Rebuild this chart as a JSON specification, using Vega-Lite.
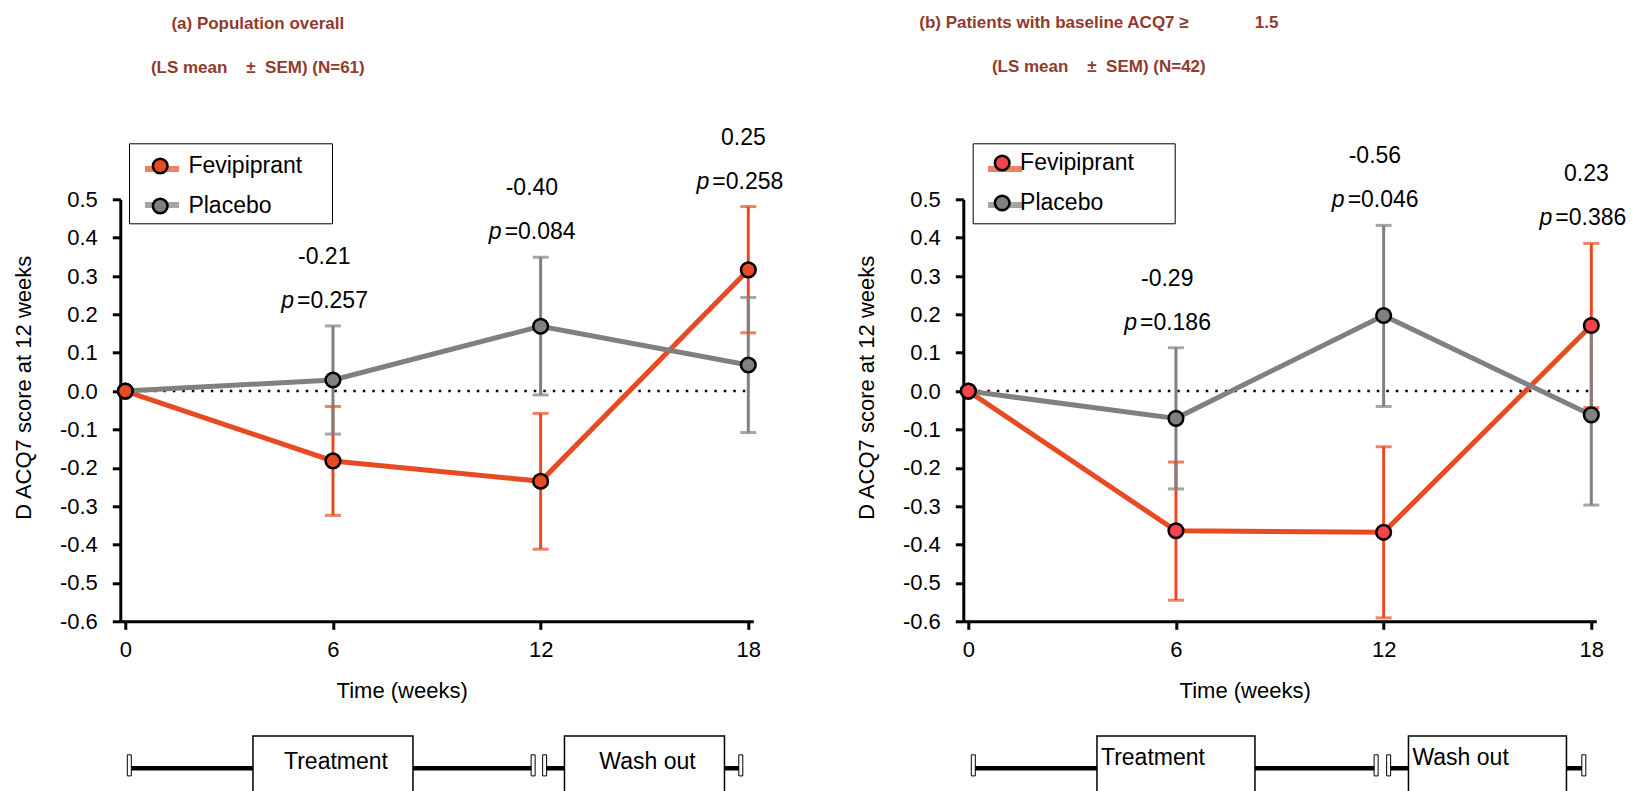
{
  "$schema": "https://vega.github.io/schema/vega-lite/v6.json",
  "autosize": {"type": "none"},
  "padding": {"left": 120.3, "top": 199.3, "right": 1514.7, "bottom": 591.7},
  "background": "white",
  "config": {
    "font": "Liberation Sans",
    "view": {"stroke": null},
    "locale": {"number": {"decimal": ".", "thousands": ",", "grouping": [3], "currency": ["$", ""], "minus": "-"}},
    "axis": {"domainColor": "black", "domainWidth": 3, "tickColor": "black", "tickWidth": 3, "tickSize": 8, "grid": false,
             "labelFont": "Liberation Sans", "labelFontSize": 22, "labelColor": "black",
             "titleFont": "Liberation Sans", "titleFontSize": 22, "titleFontWeight": "normal", "titleColor": "black"},
    "legend": {"labelFont": "Liberation Sans", "labelFontSize": 23, "labelColor": "black"},
    "title": {"font": "Liberation Sans", "fontSize": 17, "fontWeight": "bold", "color": "#903B2C", "lineHeight": 44, "anchor": "middle"},
    "text": {"font": "Liberation Sans", "fontSize": 23, "color": "black"}
  },
  "datasets": {
    "a": [
      {"group": "Fevipiprant", "week": 0, "mean": 0, "lo": 0, "hi": 0},
      {"group": "Fevipiprant", "week": 6, "mean": -0.182, "lo": -0.324, "hi": -0.040},
      {"group": "Fevipiprant", "week": 12, "mean": -0.235, "lo": -0.412, "hi": -0.058},
      {"group": "Fevipiprant", "week": 18, "mean": 0.316, "lo": 0.152, "hi": 0.481},
      {"group": "Placebo", "week": 0, "mean": 0, "lo": 0, "hi": 0},
      {"group": "Placebo", "week": 6, "mean": 0.029, "lo": -0.112, "hi": 0.170},
      {"group": "Placebo", "week": 12, "mean": 0.169, "lo": -0.010, "hi": 0.349},
      {"group": "Placebo", "week": 18, "mean": 0.068, "lo": -0.108, "hi": 0.244}
    ],
    "b": [
      {"group": "Fevipiprant", "week": 0, "mean": 0, "lo": 0, "hi": 0},
      {"group": "Fevipiprant", "week": 6, "mean": -0.364, "lo": -0.545, "hi": -0.185},
      {"group": "Fevipiprant", "week": 12, "mean": -0.368, "lo": -0.591, "hi": -0.145},
      {"group": "Fevipiprant", "week": 18, "mean": 0.171, "lo": -0.043, "hi": 0.385},
      {"group": "Placebo", "week": 0, "mean": 0, "lo": 0, "hi": 0},
      {"group": "Placebo", "week": 6, "mean": -0.071, "lo": -0.255, "hi": 0.113},
      {"group": "Placebo", "week": 12, "mean": 0.197, "lo": -0.040, "hi": 0.432},
      {"group": "Placebo", "week": 18, "mean": -0.062, "lo": -0.297, "hi": 0.173}
    ],
    "phases": [
      {"phase": "Treatment", "start": 0, "end": 12},
      {"phase": "Wash out", "start": 12, "end": 18}
    ]
  },
  "hconcat": [
    {
      "width": 633, "height": 422,
      "title": {"text": ["(a) Population overall", "(LS mean \u00a0\u00a0\u00a0± \u00a0SEM) (N=61)"], "dx": -179, "offset": 50},
      "layer": [
        {
          "data": {"values": [{"ref": 0}]},
          "mark": {"type": "rule", "color": "black", "strokeWidth": 2.5, "strokeDash": [2.5, 7]},
          "encoding": {
            "x": {"datum": 0, "type": "quantitative", "scale": {"domain": [0, 18], "nice": false, "zero": false}, "title": "Time (weeks)",
                  "axis": {"values": [0, 6, 12, 18], "format": "d", "labelPadding": 10, "titleX": 281.4, "titleY": 69, "titleAlign": "center", "titleBaseline": "middle"}},
            "x2": {"datum": 18},
            "y": {"field": "ref", "type": "quantitative", "scale": {"domain": [-0.6, 0.5], "nice": false, "zero": false}, "title": "D ACQ7 score at 12 weeks",
                  "axis": {"values": [-0.6, -0.5, -0.4, -0.3, -0.2, -0.1, 0, 0.1, 0.2, 0.3, 0.4, 0.5], "format": ".1f", "labelPadding": 15, "labelOverlap": false, "titleX": -97, "titleY": 188, "titleAlign": "center", "titleBaseline": "middle", "titleAngle": 270}}
          }
        },
        {
          "data": {"name": "a"},
          "transform": [{"filter": "datum.week > 0"}],
          "layer": [
            {"mark": {"type": "rule", "strokeWidth": 3},
             "encoding": {"x": {"field": "week", "type": "quantitative", "title": "Time (weeks)", "axis": {"values": [0, 6, 12, 18], "format": "d", "labelPadding": 10, "titleX": 281.4, "titleY": 69, "titleAlign": "center", "titleBaseline": "middle"}},
                          "y": {"field": "lo", "type": "quantitative", "title": "D ACQ7 score at 12 weeks", "axis": {"values": [-0.6, -0.5, -0.4, -0.3, -0.2, -0.1, 0, 0.1, 0.2, 0.3, 0.4, 0.5], "format": ".1f", "labelPadding": 15, "labelOverlap": false, "titleX": -97, "titleY": 188, "titleAlign": "center", "titleBaseline": "middle", "titleAngle": 270}},
                          "y2": {"field": "hi"},
                          "color": {"field": "group", "type": "nominal", "scale": {"range": ["#E84B23", "#808080"]}}}},
            {"mark": {"type": "tick", "orient": "horizontal", "size": 16, "thickness": 3},
             "encoding": {"x": {"field": "week", "type": "quantitative", "title": "Time (weeks)", "axis": {"values": [0, 6, 12, 18], "format": "d", "labelPadding": 10, "titleX": 281.4, "titleY": 69, "titleAlign": "center", "titleBaseline": "middle"}},
                          "y": {"field": "lo", "type": "quantitative", "title": "D ACQ7 score at 12 weeks", "axis": {"values": [-0.6, -0.5, -0.4, -0.3, -0.2, -0.1, 0, 0.1, 0.2, 0.3, 0.4, 0.5], "format": ".1f", "labelPadding": 15, "labelOverlap": false, "titleX": -97, "titleY": 188, "titleAlign": "center", "titleBaseline": "middle", "titleAngle": 270}},
                          "color": {"field": "group", "type": "nominal", "scale": {"range": ["#E84B23", "#808080"]}}}},
            {"mark": {"type": "tick", "orient": "horizontal", "size": 16, "thickness": 3},
             "encoding": {"x": {"field": "week", "type": "quantitative", "title": "Time (weeks)", "axis": {"values": [0, 6, 12, 18], "format": "d", "labelPadding": 10, "titleX": 281.4, "titleY": 69, "titleAlign": "center", "titleBaseline": "middle"}},
                          "y": {"field": "hi", "type": "quantitative", "title": "D ACQ7 score at 12 weeks", "axis": {"values": [-0.6, -0.5, -0.4, -0.3, -0.2, -0.1, 0, 0.1, 0.2, 0.3, 0.4, 0.5], "format": ".1f", "labelPadding": 15, "labelOverlap": false, "titleX": -97, "titleY": 188, "titleAlign": "center", "titleBaseline": "middle", "titleAngle": 270}},
                          "color": {"field": "group", "type": "nominal", "scale": {"range": ["#E84B23", "#808080"]}}}}
          ]
        },
        {
          "data": {"name": "a"},
          "mark": {"type": "line", "strokeWidth": 5},
          "encoding": {
            "x": {"field": "week", "type": "quantitative", "title": "Time (weeks)", "axis": {"values": [0, 6, 12, 18], "format": "d", "labelPadding": 10, "titleX": 281.4, "titleY": 69, "titleAlign": "center", "titleBaseline": "middle"}},
            "y": {"field": "mean", "type": "quantitative", "title": "D ACQ7 score at 12 weeks", "axis": {"values": [-0.6, -0.5, -0.4, -0.3, -0.2, -0.1, 0, 0.1, 0.2, 0.3, 0.4, 0.5], "format": ".1f", "labelPadding": 15, "labelOverlap": false, "titleX": -97, "titleY": 188, "titleAlign": "center", "titleBaseline": "middle", "titleAngle": 270}},
            "color": {"field": "group", "type": "nominal", "scale": {"range": ["#E84B23", "#808080"]},
                      "legend": {"orient": "none", "legendX": 8.7, "legendY": -56, "title": null, "symbolType": "M-1,0H1", "symbolSize": 1156, "symbolStrokeWidth": 6,
                                 "labelExpr": "''", "labelOffset": 144, "rowPadding": 4, "padding": 5.7, "symbolOffset": 7.3, "strokeColor": "black"}}
          }
        },
        {
          "data": {"name": "a"},
          "mark": {"type": "point", "filled": true, "size": 215, "stroke": "black", "strokeWidth": 2.5, "opacity": 1},
          "encoding": {
            "x": {"field": "week", "type": "quantitative", "title": "Time (weeks)", "axis": {"values": [0, 6, 12, 18], "format": "d", "labelPadding": 10, "titleX": 281.4, "titleY": 69, "titleAlign": "center", "titleBaseline": "middle"}},
            "y": {"field": "mean", "type": "quantitative", "title": "D ACQ7 score at 12 weeks", "axis": {"values": [-0.6, -0.5, -0.4, -0.3, -0.2, -0.1, 0, 0.1, 0.2, 0.3, 0.4, 0.5], "format": ".1f", "labelPadding": 15, "labelOverlap": false, "titleX": -97, "titleY": 188, "titleAlign": "center", "titleBaseline": "middle", "titleAngle": 270}},
            "fill": {"field": "group", "type": "nominal", "scale": {"domain": ["Fevipiprant", "Placebo"], "range": ["#E84B23", "#808080"]},
                     "legend": {"orient": "none", "legendX": 28.4, "legendY": -44.8, "title": null, "symbolType": "circle", "symbolSize": 215, "symbolStrokeColor": "black", "symbolStrokeWidth": 2.5, "symbolOpacity": 1,
                                "labelExpr": "datum.label == 'Placebo' ? '\u00a0Placebo' : datum.label", "labelOffset": 16.7, "rowPadding": 15, "padding": 0}},
            "order": {"field": "group", "sort": "descending"}
          }
        },
        {
          "data": {"name": "a"},
          "transform": [
            {"filter": "datum.week > 0"},
            {"aggregate": [{"op": "max", "field": "hi", "as": "top"}], "groupby": ["week"]},
            {"lookup": "week", "from": {"data": {"values": [{"week": 6, "diff": "-0.21", "p": "=0.257"}, {"week": 12, "diff": "-0.40", "p": "=0.084"}, {"week": 18, "diff": "0.25", "p": "=0.258"}]}, "key": "week", "fields": ["diff", "p"]}}
          ],
          "layer": [
            {"mark": {"type": "text", "align": "right", "baseline": "middle", "dx": 17.5, "dy": -69},
             "encoding": {"x": {"field": "week", "type": "quantitative", "title": "Time (weeks)", "axis": {"values": [0, 6, 12, 18], "format": "d", "labelPadding": 10, "titleX": 281.4, "titleY": 69, "titleAlign": "center", "titleBaseline": "middle"}},
                          "y": {"field": "top", "type": "quantitative", "title": "D ACQ7 score at 12 weeks", "axis": {"values": [-0.6, -0.5, -0.4, -0.3, -0.2, -0.1, 0, 0.1, 0.2, 0.3, 0.4, 0.5], "format": ".1f", "labelPadding": 15, "labelOverlap": false, "titleX": -97, "titleY": 188, "titleAlign": "center", "titleBaseline": "middle", "titleAngle": 270}},
                          "text": {"field": "diff"}}},
            {"mark": {"type": "text", "align": "right", "baseline": "middle", "dx": -39, "dy": -25, "fontStyle": "italic", "text": "p"},
             "encoding": {"x": {"field": "week", "type": "quantitative", "title": "Time (weeks)", "axis": {"values": [0, 6, 12, 18], "format": "d", "labelPadding": 10, "titleX": 281.4, "titleY": 69, "titleAlign": "center", "titleBaseline": "middle"}},
                          "y": {"field": "top", "type": "quantitative", "title": "D ACQ7 score at 12 weeks", "axis": {"values": [-0.6, -0.5, -0.4, -0.3, -0.2, -0.1, 0, 0.1, 0.2, 0.3, 0.4, 0.5], "format": ".1f", "labelPadding": 15, "labelOverlap": false, "titleX": -97, "titleY": 188, "titleAlign": "center", "titleBaseline": "middle", "titleAngle": 270}}}},
            {"mark": {"type": "text", "align": "left", "baseline": "middle", "dx": -36, "dy": -25},
             "encoding": {"x": {"field": "week", "type": "quantitative", "title": "Time (weeks)", "axis": {"values": [0, 6, 12, 18], "format": "d", "labelPadding": 10, "titleX": 281.4, "titleY": 69, "titleAlign": "center", "titleBaseline": "middle"}},
                          "y": {"field": "top", "type": "quantitative", "title": "D ACQ7 score at 12 weeks", "axis": {"values": [-0.6, -0.5, -0.4, -0.3, -0.2, -0.1, 0, 0.1, 0.2, 0.3, 0.4, 0.5], "format": ".1f", "labelPadding": 15, "labelOverlap": false, "titleX": -97, "titleY": 188, "titleAlign": "center", "titleBaseline": "middle", "titleAngle": 270}},
                          "text": {"field": "p"}}}
          ]
        },
        {
          "data": {"name": "phases"},
          "layer": [
            {"mark": {"type": "rule", "color": "black", "strokeWidth": 4.5, "xOffset": 4, "x2Offset": -6},
             "encoding": {"x": {"field": "start", "type": "quantitative", "title": "Time (weeks)", "axis": {"values": [0, 6, 12, 18], "format": "d", "labelPadding": 10, "titleX": 281.4, "titleY": 69, "titleAlign": "center", "titleBaseline": "middle"}},
                          "x2": {"field": "end"},
                          "y": {"datum": -0.983, "type": "quantitative", "title": "D ACQ7 score at 12 weeks", "axis": {"values": [-0.6, -0.5, -0.4, -0.3, -0.2, -0.1, 0, 0.1, 0.2, 0.3, 0.4, 0.5], "format": ".1f", "labelPadding": 15, "labelOverlap": false, "titleX": -97, "titleY": 188, "titleAlign": "center", "titleBaseline": "middle", "titleAngle": 270}}}},
            {"transform": [{"fold": ["start", "end"], "as": ["edge", "at"]}, {"aggregate": [{"op": "mean", "field": "at", "as": "mid"}], "groupby": ["phase"]}],
             "layer": [
               {"mark": {"type": "bar", "width": 160, "fill": "white", "stroke": "black", "strokeWidth": 1.5},
                "encoding": {"x": {"field": "mid", "type": "quantitative", "title": "Time (weeks)", "axis": {"values": [0, 6, 12, 18], "format": "d", "labelPadding": 10, "titleX": 281.4, "titleY": 69, "titleAlign": "center", "titleBaseline": "middle"}},
                             "y": {"datum": -0.899, "type": "quantitative", "title": "D ACQ7 score at 12 weeks", "axis": {"values": [-0.6, -0.5, -0.4, -0.3, -0.2, -0.1, 0, 0.1, 0.2, 0.3, 0.4, 0.5], "format": ".1f", "labelPadding": 15, "labelOverlap": false, "titleX": -97, "titleY": 188, "titleAlign": "center", "titleBaseline": "middle", "titleAngle": 270}},
                             "y2": {"datum": -1.2}}},
               {"mark": {"type": "text", "align": "center", "baseline": "middle", "dx": 3},
                "encoding": {"x": {"field": "mid", "type": "quantitative", "title": "Time (weeks)", "axis": {"values": [0, 6, 12, 18], "format": "d", "labelPadding": 10, "titleX": 281.4, "titleY": 69, "titleAlign": "center", "titleBaseline": "middle"}},
                             "y": {"datum": -0.967, "type": "quantitative", "title": "D ACQ7 score at 12 weeks", "axis": {"values": [-0.6, -0.5, -0.4, -0.3, -0.2, -0.1, 0, 0.1, 0.2, 0.3, 0.4, 0.5], "format": ".1f", "labelPadding": 15, "labelOverlap": false, "titleX": -97, "titleY": 188, "titleAlign": "center", "titleBaseline": "middle", "titleAngle": 270}},
                             "text": {"field": "phase"}}}
             ]},
            {"mark": {"type": "bar", "width": 4, "fill": "white", "stroke": "black", "strokeWidth": 1, "xOffset": 4},
             "encoding": {"x": {"field": "start", "type": "quantitative", "title": "Time (weeks)", "axis": {"values": [0, 6, 12, 18], "format": "d", "labelPadding": 10, "titleX": 281.4, "titleY": 69, "titleAlign": "center", "titleBaseline": "middle"}},
                          "y": {"datum": -0.948, "type": "quantitative", "title": "D ACQ7 score at 12 weeks", "axis": {"values": [-0.6, -0.5, -0.4, -0.3, -0.2, -0.1, 0, 0.1, 0.2, 0.3, 0.4, 0.5], "format": ".1f", "labelPadding": 15, "labelOverlap": false, "titleX": -97, "titleY": 188, "titleAlign": "center", "titleBaseline": "middle", "titleAngle": 270}},
                          "y2": {"datum": -1.003}}},
            {"mark": {"type": "bar", "width": 4, "fill": "white", "stroke": "black", "strokeWidth": 1, "xOffset": -7.5},
             "encoding": {"x": {"field": "end", "type": "quantitative", "title": "Time (weeks)", "axis": {"values": [0, 6, 12, 18], "format": "d", "labelPadding": 10, "titleX": 281.4, "titleY": 69, "titleAlign": "center", "titleBaseline": "middle"}},
                          "y": {"datum": -0.948, "type": "quantitative", "title": "D ACQ7 score at 12 weeks", "axis": {"values": [-0.6, -0.5, -0.4, -0.3, -0.2, -0.1, 0, 0.1, 0.2, 0.3, 0.4, 0.5], "format": ".1f", "labelPadding": 15, "labelOverlap": false, "titleX": -97, "titleY": 188, "titleAlign": "center", "titleBaseline": "middle", "titleAngle": 270}},
                          "y2": {"datum": -1.003}}}
          ]
        }
      ]
    },
    {
      "width": 633, "height": 422,
      "title": {"text": ["(b) Patients with baseline ACQ7 ≥ \u00a0\u00a0\u00a0\u00a0\u00a0\u00a0\u00a0\u00a0\u00a0\u00a0\u00a0\u00a0\u00a01.5", "(LS mean \u00a0\u00a0\u00a0± \u00a0SEM) (N=42)"], "dx": -181, "offset": 67},
      "layer": [
        {
          "data": {"values": [{"ref": 0}]},
          "mark": {"type": "rule", "color": "black", "strokeWidth": 2.5, "strokeDash": [2.5, 7]},
          "encoding": {
            "x": {"datum": 0, "type": "quantitative", "scale": {"domain": [0, 18], "nice": false, "zero": false}, "title": "Time (weeks)",
                  "axis": {"values": [0, 6, 12, 18], "format": "d", "labelPadding": 10, "titleX": 281.4, "titleY": 69, "titleAlign": "center", "titleBaseline": "middle"}},
            "x2": {"datum": 18},
            "y": {"field": "ref", "type": "quantitative", "scale": {"domain": [-0.6, 0.5], "nice": false, "zero": false}, "title": "D ACQ7 score at 12 weeks",
                  "axis": {"values": [-0.6, -0.5, -0.4, -0.3, -0.2, -0.1, 0, 0.1, 0.2, 0.3, 0.4, 0.5], "format": ".1f", "labelPadding": 15, "labelOverlap": false, "titleX": -97, "titleY": 188, "titleAlign": "center", "titleBaseline": "middle", "titleAngle": 270}}
          }
        },
        {
          "data": {"name": "b"},
          "transform": [{"filter": "datum.week > 0"}],
          "layer": [
            {"mark": {"type": "rule", "strokeWidth": 3},
             "encoding": {"x": {"field": "week", "type": "quantitative", "title": "Time (weeks)", "axis": {"values": [0, 6, 12, 18], "format": "d", "labelPadding": 10, "titleX": 281.4, "titleY": 69, "titleAlign": "center", "titleBaseline": "middle"}},
                          "y": {"field": "lo", "type": "quantitative", "title": "D ACQ7 score at 12 weeks", "axis": {"values": [-0.6, -0.5, -0.4, -0.3, -0.2, -0.1, 0, 0.1, 0.2, 0.3, 0.4, 0.5], "format": ".1f", "labelPadding": 15, "labelOverlap": false, "titleX": -97, "titleY": 188, "titleAlign": "center", "titleBaseline": "middle", "titleAngle": 270}},
                          "y2": {"field": "hi"},
                          "color": {"field": "group", "type": "nominal", "scale": {"range": ["#E84B23", "#808080"]}}}},
            {"mark": {"type": "tick", "orient": "horizontal", "size": 16, "thickness": 3},
             "encoding": {"x": {"field": "week", "type": "quantitative", "title": "Time (weeks)", "axis": {"values": [0, 6, 12, 18], "format": "d", "labelPadding": 10, "titleX": 281.4, "titleY": 69, "titleAlign": "center", "titleBaseline": "middle"}},
                          "y": {"field": "lo", "type": "quantitative", "title": "D ACQ7 score at 12 weeks", "axis": {"values": [-0.6, -0.5, -0.4, -0.3, -0.2, -0.1, 0, 0.1, 0.2, 0.3, 0.4, 0.5], "format": ".1f", "labelPadding": 15, "labelOverlap": false, "titleX": -97, "titleY": 188, "titleAlign": "center", "titleBaseline": "middle", "titleAngle": 270}},
                          "color": {"field": "group", "type": "nominal", "scale": {"range": ["#E84B23", "#808080"]}}}},
            {"mark": {"type": "tick", "orient": "horizontal", "size": 16, "thickness": 3},
             "encoding": {"x": {"field": "week", "type": "quantitative", "title": "Time (weeks)", "axis": {"values": [0, 6, 12, 18], "format": "d", "labelPadding": 10, "titleX": 281.4, "titleY": 69, "titleAlign": "center", "titleBaseline": "middle"}},
                          "y": {"field": "hi", "type": "quantitative", "title": "D ACQ7 score at 12 weeks", "axis": {"values": [-0.6, -0.5, -0.4, -0.3, -0.2, -0.1, 0, 0.1, 0.2, 0.3, 0.4, 0.5], "format": ".1f", "labelPadding": 15, "labelOverlap": false, "titleX": -97, "titleY": 188, "titleAlign": "center", "titleBaseline": "middle", "titleAngle": 270}},
                          "color": {"field": "group", "type": "nominal", "scale": {"range": ["#E84B23", "#808080"]}}}}
          ]
        },
        {
          "data": {"name": "b"},
          "mark": {"type": "line", "strokeWidth": 5},
          "encoding": {
            "x": {"field": "week", "type": "quantitative", "title": "Time (weeks)", "axis": {"values": [0, 6, 12, 18], "format": "d", "labelPadding": 10, "titleX": 281.4, "titleY": 69, "titleAlign": "center", "titleBaseline": "middle"}},
            "y": {"field": "mean", "type": "quantitative", "title": "D ACQ7 score at 12 weeks", "axis": {"values": [-0.6, -0.5, -0.4, -0.3, -0.2, -0.1, 0, 0.1, 0.2, 0.3, 0.4, 0.5], "format": ".1f", "labelPadding": 15, "labelOverlap": false, "titleX": -97, "titleY": 188, "titleAlign": "center", "titleBaseline": "middle", "titleAngle": 270}},
            "color": {"field": "group", "type": "nominal", "scale": {"range": ["#E84B23", "#808080"]},
                      "legend": {"orient": "none", "legendX": 9.4, "legendY": -56, "title": null, "symbolType": "M-1,0H1", "symbolSize": 1156, "symbolStrokeWidth": 6,
                                 "labelExpr": "''", "labelOffset": 144, "rowPadding": 4, "padding": 5.7, "symbolOffset": 6.6, "strokeColor": "black"}}
          }
        },
        {
          "data": {"name": "b"},
          "mark": {"type": "point", "filled": true, "size": 215, "stroke": "black", "strokeWidth": 2.5, "opacity": 1},
          "encoding": {
            "x": {"field": "week", "type": "quantitative", "title": "Time (weeks)", "axis": {"values": [0, 6, 12, 18], "format": "d", "labelPadding": 10, "titleX": 281.4, "titleY": 69, "titleAlign": "center", "titleBaseline": "middle"}},
            "y": {"field": "mean", "type": "quantitative", "title": "D ACQ7 score at 12 weeks", "axis": {"values": [-0.6, -0.5, -0.4, -0.3, -0.2, -0.1, 0, 0.1, 0.2, 0.3, 0.4, 0.5], "format": ".1f", "labelPadding": 15, "labelOverlap": false, "titleX": -97, "titleY": 188, "titleAlign": "center", "titleBaseline": "middle", "titleAngle": 270}},
            "fill": {"field": "group", "type": "nominal", "scale": {"domain": ["Fevipiprant", "Placebo"], "range": ["#F4434A", "#808080"]},
                     "legend": {"orient": "none", "legendX": 27.4, "legendY": -47.8, "title": null, "symbolType": "circle", "symbolSize": 215, "symbolStrokeColor": "black", "symbolStrokeWidth": 2.5, "symbolOpacity": 1,
                                "labelExpr": "datum.label == 'Placebo' ? '\u00a0\u00a0Placebo' : datum.label", "labelOffset": 6.4, "rowPadding": 15, "padding": 0}},
            "order": {"field": "group", "sort": "descending"}
          }
        },
        {
          "data": {"name": "b"},
          "transform": [
            {"filter": "datum.week > 0"},
            {"aggregate": [{"op": "max", "field": "hi", "as": "top"}], "groupby": ["week"]},
            {"lookup": "week", "from": {"data": {"values": [{"week": 6, "diff": "-0.29", "p": "=0.186"}, {"week": 12, "diff": "-0.56", "p": "=0.046"}, {"week": 18, "diff": "0.23", "p": "=0.386"}]}, "key": "week", "fields": ["diff", "p"]}}
          ],
          "layer": [
            {"mark": {"type": "text", "align": "right", "baseline": "middle", "dx": 17.5, "dy": -69},
             "encoding": {"x": {"field": "week", "type": "quantitative", "title": "Time (weeks)", "axis": {"values": [0, 6, 12, 18], "format": "d", "labelPadding": 10, "titleX": 281.4, "titleY": 69, "titleAlign": "center", "titleBaseline": "middle"}},
                          "y": {"field": "top", "type": "quantitative", "title": "D ACQ7 score at 12 weeks", "axis": {"values": [-0.6, -0.5, -0.4, -0.3, -0.2, -0.1, 0, 0.1, 0.2, 0.3, 0.4, 0.5], "format": ".1f", "labelPadding": 15, "labelOverlap": false, "titleX": -97, "titleY": 188, "titleAlign": "center", "titleBaseline": "middle", "titleAngle": 270}},
                          "text": {"field": "diff"}}},
            {"mark": {"type": "text", "align": "right", "baseline": "middle", "dx": -39, "dy": -25, "fontStyle": "italic", "text": "p"},
             "encoding": {"x": {"field": "week", "type": "quantitative", "title": "Time (weeks)", "axis": {"values": [0, 6, 12, 18], "format": "d", "labelPadding": 10, "titleX": 281.4, "titleY": 69, "titleAlign": "center", "titleBaseline": "middle"}},
                          "y": {"field": "top", "type": "quantitative", "title": "D ACQ7 score at 12 weeks", "axis": {"values": [-0.6, -0.5, -0.4, -0.3, -0.2, -0.1, 0, 0.1, 0.2, 0.3, 0.4, 0.5], "format": ".1f", "labelPadding": 15, "labelOverlap": false, "titleX": -97, "titleY": 188, "titleAlign": "center", "titleBaseline": "middle", "titleAngle": 270}}}},
            {"mark": {"type": "text", "align": "left", "baseline": "middle", "dx": -36, "dy": -25},
             "encoding": {"x": {"field": "week", "type": "quantitative", "title": "Time (weeks)", "axis": {"values": [0, 6, 12, 18], "format": "d", "labelPadding": 10, "titleX": 281.4, "titleY": 69, "titleAlign": "center", "titleBaseline": "middle"}},
                          "y": {"field": "top", "type": "quantitative", "title": "D ACQ7 score at 12 weeks", "axis": {"values": [-0.6, -0.5, -0.4, -0.3, -0.2, -0.1, 0, 0.1, 0.2, 0.3, 0.4, 0.5], "format": ".1f", "labelPadding": 15, "labelOverlap": false, "titleX": -97, "titleY": 188, "titleAlign": "center", "titleBaseline": "middle", "titleAngle": 270}},
                          "text": {"field": "p"}}}
          ]
        },
        {
          "data": {"name": "phases"},
          "layer": [
            {"mark": {"type": "rule", "color": "black", "strokeWidth": 4.5, "xOffset": 5, "x2Offset": -6},
             "encoding": {"x": {"field": "start", "type": "quantitative", "title": "Time (weeks)", "axis": {"values": [0, 6, 12, 18], "format": "d", "labelPadding": 10, "titleX": 281.4, "titleY": 69, "titleAlign": "center", "titleBaseline": "middle"}},
                          "x2": {"field": "end"},
                          "y": {"datum": -0.983, "type": "quantitative", "title": "D ACQ7 score at 12 weeks", "axis": {"values": [-0.6, -0.5, -0.4, -0.3, -0.2, -0.1, 0, 0.1, 0.2, 0.3, 0.4, 0.5], "format": ".1f", "labelPadding": 15, "labelOverlap": false, "titleX": -97, "titleY": 188, "titleAlign": "center", "titleBaseline": "middle", "titleAngle": 270}}}},
            {"transform": [{"fold": ["start", "end"], "as": ["edge", "at"]}, {"aggregate": [{"op": "mean", "field": "at", "as": "mid"}], "groupby": ["phase"]}],
             "layer": [
               {"mark": {"type": "bar", "width": 158, "fill": "white", "stroke": "black", "strokeWidth": 1.5},
                "encoding": {"x": {"field": "mid", "type": "quantitative", "title": "Time (weeks)", "axis": {"values": [0, 6, 12, 18], "format": "d", "labelPadding": 10, "titleX": 281.4, "titleY": 69, "titleAlign": "center", "titleBaseline": "middle"}},
                             "y": {"datum": -0.899, "type": "quantitative", "title": "D ACQ7 score at 12 weeks", "axis": {"values": [-0.6, -0.5, -0.4, -0.3, -0.2, -0.1, 0, 0.1, 0.2, 0.3, 0.4, 0.5], "format": ".1f", "labelPadding": 15, "labelOverlap": false, "titleX": -97, "titleY": 188, "titleAlign": "center", "titleBaseline": "middle", "titleAngle": 270}},
                             "y2": {"datum": -1.2}}},
               {"mark": {"type": "text", "align": "left", "baseline": "middle", "dx": -75},
                "encoding": {"x": {"field": "mid", "type": "quantitative", "title": "Time (weeks)", "axis": {"values": [0, 6, 12, 18], "format": "d", "labelPadding": 10, "titleX": 281.4, "titleY": 69, "titleAlign": "center", "titleBaseline": "middle"}},
                             "y": {"datum": -0.956, "type": "quantitative", "title": "D ACQ7 score at 12 weeks", "axis": {"values": [-0.6, -0.5, -0.4, -0.3, -0.2, -0.1, 0, 0.1, 0.2, 0.3, 0.4, 0.5], "format": ".1f", "labelPadding": 15, "labelOverlap": false, "titleX": -97, "titleY": 188, "titleAlign": "center", "titleBaseline": "middle", "titleAngle": 270}},
                             "text": {"field": "phase"}}}
             ]},
            {"mark": {"type": "bar", "width": 4, "fill": "white", "stroke": "black", "strokeWidth": 1, "xOffset": 5},
             "encoding": {"x": {"field": "start", "type": "quantitative", "title": "Time (weeks)", "axis": {"values": [0, 6, 12, 18], "format": "d", "labelPadding": 10, "titleX": 281.4, "titleY": 69, "titleAlign": "center", "titleBaseline": "middle"}},
                          "y": {"datum": -0.948, "type": "quantitative", "title": "D ACQ7 score at 12 weeks", "axis": {"values": [-0.6, -0.5, -0.4, -0.3, -0.2, -0.1, 0, 0.1, 0.2, 0.3, 0.4, 0.5], "format": ".1f", "labelPadding": 15, "labelOverlap": false, "titleX": -97, "titleY": 188, "titleAlign": "center", "titleBaseline": "middle", "titleAngle": 270}},
                          "y2": {"datum": -1.003}}},
            {"mark": {"type": "bar", "width": 4, "fill": "white", "stroke": "black", "strokeWidth": 1, "xOffset": -7.5},
             "encoding": {"x": {"field": "end", "type": "quantitative", "title": "Time (weeks)", "axis": {"values": [0, 6, 12, 18], "format": "d", "labelPadding": 10, "titleX": 281.4, "titleY": 69, "titleAlign": "center", "titleBaseline": "middle"}},
                          "y": {"datum": -0.948, "type": "quantitative", "title": "D ACQ7 score at 12 weeks", "axis": {"values": [-0.6, -0.5, -0.4, -0.3, -0.2, -0.1, 0, 0.1, 0.2, 0.3, 0.4, 0.5], "format": ".1f", "labelPadding": 15, "labelOverlap": false, "titleX": -97, "titleY": 188, "titleAlign": "center", "titleBaseline": "middle", "titleAngle": 270}},
                          "y2": {"datum": -1.003}}}
          ]
        }
      ]
    }
  ],
  "spacing": 210,
  "bounds": "flush",
  "resolve": {"scale": {"color": "independent", "fill": "independent"}, "legend": {"color": "independent", "fill": "independent"}}
}
